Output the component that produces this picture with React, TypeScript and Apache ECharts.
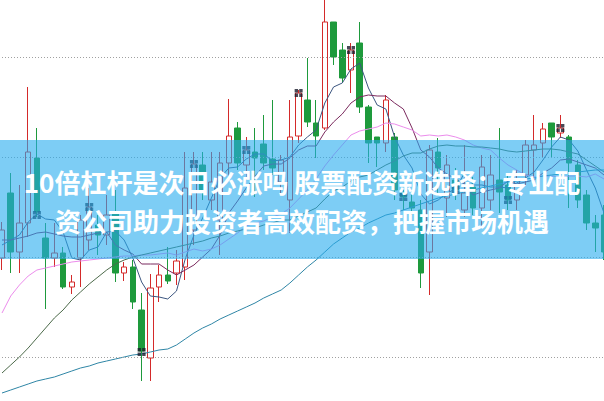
import React, { useEffect, useRef } from "react";
import * as echarts from "echarts";

// ---- data ----
const categories: string[] = Array.from({ length: 70 }, (_, i) => String(i + 1));

const opens = [10.99,11.64,11.05,11.34,11.99,11.19,10.99,11.04,10.70,10.99, 11.17,11.32,11.22,11.45,10.84,10.90,10.47,9.99,10.70,10.82, 10.84,10.90,11.27,11.92,11.57,11.37,11.94,12.29,11.92,12.05, 12.13,11.98,11.75,11.57,12.21,12.57,12.34,12.29,13.35,13.07, 12.87,13.14,12.50,12.20,12.14,12.20,11.64,11.55,11.47,11.05, 12.05,11.59,11.77,11.47,11.70,11.49,11.57,11.77,11.72,11.57, 11.82,12.07,12.14,12.34,12.24,12.20,11.92,11.62,11.34,11.42];
const closes = [11.27,11.05,11.34,12.05,11.45,10.99,11.04,10.70,10.75,11.37, 11.50,11.22,11.42,10.84,10.90,10.55,10.06,10.69,10.82,10.76, 10.96,11.69,11.93,11.67,11.75,11.94,12.21,11.94,12.07,11.99, 11.94,11.89,11.97,12.20,12.64,12.35,12.21,13.35,13.00,12.79, 13.07,12.50,12.14,12.14,12.57,11.67,11.60,11.49,10.84,12.07, 11.89,11.92,11.67,11.64,11.49,11.90,11.82,11.65,11.57,11.77, 12.12,12.12,12.28,12.20,12.29,11.94,11.57,11.34,11.29,11.05];
const lows = [10.87,10.84,10.84,11.20,11.40,10.48,10.90,10.68,10.63,10.70, 11.07,11.02,11.12,10.75,10.76,10.48,9.76,9.76,10.55,10.73, 10.72,10.77,11.12,11.57,11.47,11.02,11.77,11.87,11.77,11.60, 11.87,11.82,11.62,11.24,12.14,12.30,11.99,12.27,12.92,12.74, 12.64,12.44,11.94,11.90,12.05,11.57,11.47,11.42,10.69,10.62, 11.62,11.40,11.57,11.40,11.42,11.30,11.47,11.44,11.47,11.47, 11.72,11.77,11.99,11.99,12.19,11.49,11.49,11.27,11.05,10.97];
const highs = [11.35,11.84,11.72,12.70,12.29,11.34,11.34,11.10,10.82,11.42, 11.69,11.42,11.62,11.67,10.95,10.97,10.64,10.83,10.92,11.10, 11.07,12.05,12.05,12.05,12.05,12.05,12.58,12.35,12.20,12.29, 12.42,12.57,12.02,12.57,12.67,12.99,12.57,13.62,13.35,13.14, 13.14,13.35,12.52,12.20,12.62,12.24,11.67,11.62,11.57,12.12, 12.19,12.02,11.89,12.12,11.80,12.02,12.02,12.29,11.82,11.87, 12.17,12.42,12.34,12.34,12.42,12.22,11.97,11.67,11.42,11.52];

const ma5 = [11.12,11.17,11.22,11.35,11.43,11.38,11.37,11.25,10.99,10.97, 11.07,11.10,11.25,11.26,11.17,10.99,10.75,10.61,10.60,10.58, 10.66,10.98,11.22,11.39,11.59,11.79,11.89,11.90,11.98,12.03, 12.03,11.96,11.97,12.00,12.12,12.20,12.27,12.54,12.70,12.74, 12.88,12.94,12.69,12.52,12.48,12.20,12.02,11.89,11.63,11.53, 11.57,11.64,11.68,11.84,11.72,11.72,11.70,11.70,11.69,11.74, 11.79,11.85,11.97,12.10,12.20,12.17,12.06,11.87,11.69,11.44];
const ma10 = [11.17,11.17,11.19,11.21,11.24,11.25,11.23,11.21,11.20,11.20, 11.22,11.24,11.25,11.12,11.07,11.03,10.93,10.93,10.93,10.87, 10.82,10.87,10.92,11.00,11.08,11.22,11.44,11.56,11.69,11.81, 11.91,11.93,11.93,11.99,12.07,12.11,12.11,12.25,12.35,12.43, 12.54,12.60,12.62,12.61,12.61,12.54,12.48,12.29,12.07,12.00, 11.89,11.83,11.78,11.73,11.62,11.65,11.67,11.69,11.76,11.73, 11.75,11.77,11.84,11.89,11.97,11.98,11.95,11.92,11.89,11.82];
const ma20 = [10.44,10.61,10.72,10.81,10.87,10.89,10.91,10.93,10.95,10.96, 10.97,10.98,10.99,11.00,11.01,11.01,11.02,11.02,11.03,11.04, 11.02,11.05,11.08,11.06,11.08,11.12,11.18,11.24,11.31,11.34, 11.36,11.40,11.43,11.49,11.58,11.67,11.78,11.91,12.02,12.12, 12.22,12.26,12.28,12.30,12.34,12.33,12.30,12.27,12.21,12.22, 12.21,12.22,12.20,12.17,12.12,12.09,12.07,11.99,11.92,11.87, 11.82,11.80,11.81,11.81,11.80,11.81,11.81,11.80,11.83,11.78];
const ma30 = [9.84,9.92,10.00,10.09,10.19,10.29,10.39,10.47,10.57,10.65, 10.73,10.80,10.87,10.93,10.97,11.00,11.02,11.04,11.06,11.08, 11.10,11.12,11.14,11.16,11.19,11.21,11.24,11.26,11.28,11.29, 11.32,11.34,11.37,11.37,11.41,11.45,11.49,11.58,11.66,11.70, 11.76,11.80,11.82,11.87,11.92,11.96,12.01,12.04,12.04,12.08, 12.11,12.12,12.11,12.11,12.10,12.10,12.09,12.08,12.06,12.05, 12.06,12.07,12.08,12.08,12.07,12.05,12.03,11.97,11.91,11.85];
const ma60 = [9.64,9.67,9.70,9.73,9.76,9.78,9.80,9.83,9.86,9.89, 9.91,9.94,9.96,9.98,10.00,10.02,10.03,10.05,10.07,10.08, 10.12,10.18,10.24,10.29,10.33,10.38,10.42,10.46,10.50,10.54, 10.59,10.63,10.67,10.74,10.82,10.90,10.97,11.05,11.13,11.19, 11.25,11.29,11.34,11.38,11.42,11.44,11.47,11.50,11.53,11.56, 11.59,11.61,11.63,11.65,11.67,11.69,11.71,11.73,11.75,11.76, 11.78,11.79,11.81,11.82,11.83,11.84,11.85,11.86,11.87,11.87];

const markerIdx = [4, 10, 16, 22, 28, 34, 40, 46, 52, 58, 64];
const markerVals = [11.42, 11.50, 10.05, 11.93, 12.07, 12.64, 13.07, 11.60, 11.67, 11.57, 12.29];

const gridLevels = [10, 11, 12, 13];
const titleLine1 = "10倍杠杆是次日必涨吗 股票配资新选择：专业配";
const titleLine2 = "资公司助力投资者高效配资，把握市场机遇";

export default function App() {
  const ref = useRef<HTMLDivElement>(null);
  useEffect(() => {
    if (!ref.current) return;
    const chart = echarts.init(ref.current, null, { renderer: "svg" });
    const candleData = opens.map((o, i) => [o, closes[i], lows[i], highs[i]]);
    const maLine = (name: string, data: number[], color: string) => ({
      name,
      type: "line",
      data,
      symbol: "none",
      smooth: false,
      silent: true,
      z: 3,
      lineStyle: { color, width: 1 },
    });
    chart.setOption({
      animation: false,
      backgroundColor: "#ffffff",
      grid: { left: 2, top: 0, width: 603.75, height: 401, containLabel: false },
      xAxis: { type: "category", data: categories, boundaryGap: false, show: false },
      yAxis: { type: "value", min: 9.56, max: 13.57, show: false, splitLine: { show: false } },
      series: [
        {
          type: "candlestick",
          data: candleData,
          barWidth: 6,
          z: 2,
          itemStyle: {
            color: "#ffffff",
            color0: "#1e9a3c",
            borderColor: "#d42a2a",
            borderColor0: "#1e9a3c",
            borderWidth: 1,
          },
          markLine: {
            silent: true,
            symbol: ["none", "none"],
            label: { show: false },
            lineStyle: { color: "#a0a0a0", type: [1, 2], width: 1 },
            data: gridLevels.map((v) => ({ yAxis: v })),
          },
        },
        maLine("MA5", ma5, "#3c5680"),
        maLine("MA10", ma10, "#7b2a5e"),
        maLine("MA20", ma20, "#ec8cec"),
        maLine("MA30", ma30, "#4c6a4a"),
        maLine("MA60", ma60, "#2f86a6"),
        {
          type: "scatter",
          data: markerIdx.map((i, k) => [i, markerVals[k]]),
          symbol: "path://M0 0h3v3h-3z M4 0h3v3h-3z M0 4h3v3h-3z M4 4h3v3h-3z",
          symbolSize: 8,
          z: 5,
          silent: true,
          itemStyle: { color: "#1a1c2c" },
        },
      ],
      graphic: [
        {
          type: "rect",
          z: 100,
          silent: true,
          shape: { x: 0, y: 140, width: 604, height: 119 },
          style: { fill: "rgba(38,172,238,0.6)" },
        },
        {
          type: "text",
          z: 101,
          x: 302,
          y: 181,
          style: {
            text: titleLine1,
            fill: "#ffffff",
            font: 'bold 26px "Noto Sans CJK SC", sans-serif',
            align: "center",
            verticalAlign: "middle",
            textAlign: "center",
            textVerticalAlign: "middle",
          },
        },
        {
          type: "text",
          z: 101,
          x: 302,
          y: 220,
          style: {
            text: titleLine2,
            fill: "#ffffff",
            font: 'bold 26px "Noto Sans CJK SC", sans-serif',
            align: "center",
            verticalAlign: "middle",
            textAlign: "center",
            textVerticalAlign: "middle",
          },
        },
      ],
    });
    return () => chart.dispose();
  }, []);
  return (
    <div
      ref={ref}
      style={{ position: "fixed", left: 0, top: 0, width: 604, height: 401, background: "#fff" }}
    />
  );
}
